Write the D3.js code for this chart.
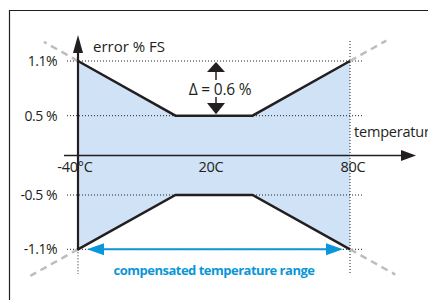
<!DOCTYPE html>
<html><head><meta charset="utf-8">
<script src="https://cdn.jsdelivr.net/npm/d3@7"></script>
<style>
body{margin:0;background:#fff;}
svg{display:block;}
text{font-family:"Open Sans","Noto Sans",sans-serif;fill:#231f20;}
</style></head>
<body>
<script>
// Data
const temps = [-40, 3, 37, 80];
const upperErr = [1.1, 0.5, 0.5, 1.1];
const lowerErr = [-1.1, -0.5, -0.5, -1.1];
const yTicks = [1.1, 0.5, -0.5, -1.1];
const yTickLabels = ["1.1%", "0.5 %", "-0.5 %", "-1.1%"];
const xTicks = [-40, 20, 80];
const xTickLabels = ["-40°C", "20C", "80C"];
const deltaLabel = "Δ = 0.6 %";
const deltaAt = 20;
const extTemps = {upper: [-55, 96], lower: [-61, 100]};

const W = 428, H = 300;
const svg = d3.select("body").append("svg").attr("width", W).attr("height", H);

const x = d3.scaleLinear().domain([-40, 80]).range([78, 350]);
const y = d3.scaleLinear().domain([-1.1, -0.5, 0, 0.5, 1.1]).range([249.3, 195, 155.5, 115.7, 61]);

// frame
svg.append("path").attr("d", `M9.5,${H}V10.5H${W}`).attr("fill", "none")
  .attr("stroke", "#231f20").attr("stroke-width", 1.2);

// fill area
const pts = temps.map((t, i) => ({t, u: upperErr[i], l: lowerErr[i]}));
svg.append("path").datum(pts)
  .attr("d", d3.area().x(d => x(d.t)).y0(d => y(d.l)).y1(d => y(d.u)))
  .attr("fill", "#cfe2f6");

// dotted grid lines
const dot = {stroke: "#231f20", "stroke-width": 1, "stroke-dasharray": "1,2"};
yTicks.forEach(v => {
  const l = svg.append("line").attr("x1", 67).attr("x2", 364).attr("y1", y(v)).attr("y2", y(v));
  Object.entries(dot).forEach(([k, val]) => l.attr(k, val));
});
{
  const l = svg.append("line").attr("x1", x(80)).attr("x2", x(80)).attr("y1", 41).attr("y2", 275);
  Object.entries(dot).forEach(([k, val]) => l.attr(k, val));
  const l2 = svg.append("line").attr("x1", x(-40)).attr("x2", x(-40)).attr("y1", y(-1.1)).attr("y2", 274);
  Object.entries(dot).forEach(([k, val]) => l2.attr(k, val));
}

// gray dashed extensions
function ext(tArr, eArr, side, tEnd) {
  const i0 = side === 0 ? 0 : tArr.length - 1, i1 = side === 0 ? 1 : tArr.length - 2;
  const x0 = x(tArr[i0]), y0 = y(eArr[i0]), x1 = x(tArr[i1]), y1 = y(eArr[i1]);
  const xe = x(tEnd);
  const ye = y0 + (y0 - y1) / (x0 - x1) * (xe - x0);
  return [[x0, y0], [xe, ye]];
}
const exts = [
  ext(temps, upperErr, 0, extTemps.upper[0]),
  ext(temps, upperErr, 1, extTemps.upper[1]),
  ext(temps, lowerErr, 0, extTemps.lower[0]),
  ext(temps, lowerErr, 1, extTemps.lower[1])
];
exts.forEach(seg => {
  svg.append("path").attr("d", d3.line()(seg)).attr("fill", "none")
    .attr("stroke", "#bdbdbd").attr("stroke-width", 2.5).attr("stroke-dasharray", "7,5");
});

// x axis
const yAx = y(0);
svg.append("line").attr("x1", 64).attr("x2", 402).attr("y1", yAx).attr("y2", yAx)
  .attr("stroke", "#231f20").attr("stroke-width", 1.5);
svg.append("path").attr("d", `M401,${yAx - 5.5}L416,${yAx}L401,${yAx + 5.5}Z`).attr("fill", "#231f20");

// y axis (left edge)
svg.append("line").attr("x1", x(-40)).attr("x2", x(-40)).attr("y1", y(-1.1) + 1).attr("y2", 52)
  .attr("stroke", "#231f20").attr("stroke-width", 2.2);
svg.append("path").attr("d", `M${x(-40) - 5},53L${x(-40)},35L${x(-40) + 5},53Z`).attr("fill", "#231f20");

// curves
const line = d3.line().x(d => x(d[0])).y(d => y(d[1]));
svg.append("path").attr("d", line(temps.map((t, i) => [t, upperErr[i]])))
  .attr("fill", "none").attr("stroke", "#231f20").attr("stroke-width", 2.5).attr("stroke-linejoin", "miter");
svg.append("path").attr("d", line(temps.map((t, i) => [t, lowerErr[i]])))
  .attr("fill", "none").attr("stroke", "#231f20").attr("stroke-width", 2.5).attr("stroke-linejoin", "miter");

// tick labels
yTicks.forEach((v, i) => {
  svg.append("text").attr("x", 57).attr("y", y(v)).attr("dy", "0.36em")
    .attr("text-anchor", "end").attr("font-size", 14).attr("letter-spacing", -0.5).text(yTickLabels[i]);
});
xTicks.forEach((v, i) => {
  svg.append("text").attr("x", x(v) + (i === 2 ? 3 : -3)).attr("y", 172)
    .attr("text-anchor", "middle").attr("font-size", 14.5).attr("letter-spacing", -0.2).text(xTickLabels[i]);
});

// axis titles
svg.append("text").attr("x", 93).attr("y", 52).attr("font-size", 15).attr("letter-spacing", 0).text("error % FS");
svg.append("text").attr("x", 354).attr("y", 137).attr("font-size", 14.5).attr("letter-spacing", -0.2).text("temperature");

// delta annotation
const dx = x(deltaAt) + 2;
svg.append("line").attr("x1", dx).attr("x2", dx).attr("y1", 70).attr("y2", 80).attr("stroke", "#231f20").attr("stroke-width", 1.5);
svg.append("path").attr("d", `M${dx - 9},72L${dx},${y(1.1) + 1}L${dx + 9},72Z`).attr("fill", "#231f20");
svg.append("line").attr("x1", dx).attr("x2", dx).attr("y1", 97).attr("y2", 105).attr("stroke", "#231f20").attr("stroke-width", 1.5);
svg.append("path").attr("d", `M${dx - 9},103L${dx},${y(0.5) - 1.5}L${dx + 9},103Z`).attr("fill", "#231f20");
svg.append("text").attr("x", 220).attr("y", 95).attr("text-anchor", "middle").attr("font-size", 15.5)
  .attr("letter-spacing", -0.2).text(deltaLabel);

// compensated range arrow
const blue = "#0a96d8";
const ya = y(-1.1);
svg.append("line").attr("x1", 100).attr("x2", 330).attr("y1", ya).attr("y2", ya).attr("stroke", blue).attr("stroke-width", 2);
svg.append("path").attr("d", `M87,${ya}L104,${ya - 6}L104,${ya + 6}Z`).attr("fill", blue);
svg.append("path").attr("d", `M343,${ya}L326,${ya - 6}L326,${ya + 6}Z`).attr("fill", blue);
svg.append("text").attr("x", 214).attr("y", 275).attr("text-anchor", "middle").attr("font-size", 13)
  .attr("font-weight", "bold").attr("letter-spacing", -0.5).style("fill", blue).text("compensated temperature range");
</script>
</body></html>
